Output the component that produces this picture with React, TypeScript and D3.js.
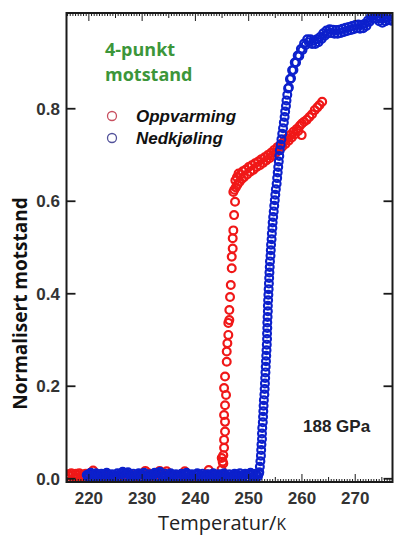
import { useEffect, useRef } from 'react';
import * as d3 from 'd3';

// Oppvarming (rød) – [temperatur K, normalisert motstand]
const heatBase = [
  [216.1, 0.010], [216.4, 0.006], [216.7, 0.012], [217.0, 0.008], [217.3, 0.004], [217.6, 0.011],
  [217.9, 0.007], [218.2, 0.012], [218.5, 0.005], [218.8, 0.009], [219.1, 0.006], [219.4, 0.011],
  [219.8, 0.008], [220.3, 0.013], [220.8, 0.018], [221.5, 0.010], [222.3, 0.006], [223.0, 0.004],
  [223.8, 0.007], [224.6, 0.003], [225.4, 0.001], [225.9, -0.001], [226.6, 0.004], [227.4, 0.006],
  [228.2, 0.008], [229.0, 0.005], [229.8, 0.009], [230.6, 0.017], [231.2, 0.012], [231.9, 0.006],
  [232.6, 0.008], [233.3, 0.017], [234.0, 0.012], [234.6, 0.016], [235.3, 0.007], [236.0, 0.004],
  [236.7, 0.006], [237.4, 0.010], [238.0, 0.016], [238.6, 0.000], [239.3, -0.001], [240.0, 0.001],
  [240.7, 0.000], [241.4, 0.002], [242.1, 0.010], [242.5, 0.019], [243.2, 0.008], [243.9, 0.005],
  [244.5, 0.009], [244.9, 0.020],
];
const heatJump = [
  [244.94, 0.045], [245.24, 0.033], [245.11, 0.037], [245.24, 0.051], [245.38, 0.067], [245.38, 0.084],
  [245.56, 0.102], [245.56, 0.123], [245.38, 0.138], [245.56, 0.159], [245.75, 0.181], [245.38, 0.196],
  [245.56, 0.221], [245.88, 0.253], [245.88, 0.275], [246.0, 0.293], [246.18, 0.311], [246.18, 0.337],
  [246.37, 0.343], [246.37, 0.365], [246.5, 0.393], [246.64, 0.419], [246.82, 0.455], [246.82, 0.480],
  [247.0, 0.498], [247.0, 0.520], [247.12, 0.537], [247.26, 0.570], [247.44, 0.599], [247.12, 0.620],
];
const heatUpper = [
  [247.3, 0.625], [247.5, 0.645], [247.6, 0.630], [247.8, 0.652], [247.9, 0.636], [248.1, 0.660],
  [248.3, 0.642], [248.5, 0.658], [248.7, 0.648], [248.9, 0.665], [249.1, 0.652], [249.4, 0.668],
  [249.7, 0.658], [250.0, 0.674], [250.3, 0.664], [250.6, 0.678], [250.9, 0.668], [251.2, 0.682],
  [251.5, 0.674], [251.8, 0.686], [252.1, 0.678], [252.4, 0.691], [252.7, 0.683], [253.0, 0.695],
  [253.3, 0.688], [253.6, 0.700], [253.9, 0.693], [254.2, 0.705], [254.5, 0.699], [254.8, 0.711],
  [255.1, 0.705], [255.4, 0.717], [255.7, 0.711], [256.0, 0.723], [256.3, 0.718], [256.6, 0.729],
  [256.9, 0.724], [257.2, 0.736], [257.5, 0.731], [257.8, 0.743], [258.1, 0.738], [258.4, 0.750],
  [258.7, 0.745], [259.0, 0.756], [259.3, 0.752], [259.6, 0.763], [259.95, 0.743], [260.0, 0.768],
  [260.4, 0.772], [260.9, 0.776], [261.4, 0.782], [261.9, 0.788], [262.4, 0.797], [262.9, 0.803],
  [263.3, 0.808], [263.8, 0.815],
];

// Nedkjøling (blå)
const coolBase = [
  [219.6, 0.008], [220.0, 0.010], [220.5, 0.011], [221.0, 0.009], [221.5, 0.007], [222.0, 0.006],
  [222.5, 0.008], [223.0, 0.010], [223.5, 0.009], [224.0, 0.007], [224.5, 0.005], [225.0, 0.006],
  [225.5, 0.008], [226.0, 0.011], [226.5, 0.013], [227.0, 0.012], [227.5, 0.009], [228.0, 0.007],
  [228.5, 0.006], [229.0, 0.008], [229.5, 0.010], [230.0, 0.009], [230.5, 0.007], [231.0, 0.005],
  [231.5, 0.006], [232.0, 0.008], [232.5, 0.011], [233.0, 0.012], [233.5, 0.010], [234.0, 0.007],
  [234.5, 0.006], [235.0, 0.008], [235.5, 0.009], [236.0, 0.007], [236.5, 0.005], [237.0, 0.006],
  [237.5, 0.008], [238.0, 0.010], [238.5, 0.009], [239.0, 0.007], [239.5, 0.006], [240.0, 0.008],
  [240.5, 0.010], [241.0, 0.008], [241.5, 0.006], [242.0, 0.005], [242.5, 0.007], [243.0, 0.009],
  [243.5, 0.008], [244.0, 0.006], [244.5, 0.007], [245.0, 0.009], [245.5, 0.008], [246.0, 0.006],
  [246.5, 0.005], [247.0, 0.007], [247.5, 0.009], [248.0, 0.008], [248.5, 0.006], [249.0, 0.007],
  [249.5, 0.009], [250.0, 0.010], [250.5, 0.008], [251.0, 0.006], [251.5, 0.008], [251.9, 0.011],
];
const coolBase2 = [
  [219.85, 0.004], [220.35, 0.013], [220.85, 0.005], [221.35, 0.012], [221.85, 0.003], [222.35, 0.011],
  [222.85, 0.004], [223.35, 0.013], [223.85, 0.003], [224.35, 0.010], [224.85, 0.002], [225.35, 0.012],
  [225.85, 0.004], [226.35, 0.015], [226.85, 0.006], [227.35, 0.014], [227.85, 0.003], [228.35, 0.011],
  [228.85, 0.002], [229.35, 0.012], [229.85, 0.004], [230.35, 0.013], [230.85, 0.003], [231.35, 0.010],
  [231.85, 0.002], [232.35, 0.013], [232.85, 0.005], [233.35, 0.015], [233.85, 0.004], [234.35, 0.011],
  [234.85, 0.003], [235.35, 0.012], [235.85, 0.004], [236.35, 0.010], [236.85, 0.002], [237.35, 0.011],
  [237.85, 0.004], [238.35, 0.013], [238.85, 0.003], [239.35, 0.010], [239.85, 0.002], [240.35, 0.012],
  [240.85, 0.004], [241.35, 0.011], [241.85, 0.002], [242.35, 0.010], [242.85, 0.003], [243.35, 0.012],
  [243.85, 0.003], [244.35, 0.010], [244.85, 0.004], [245.35, 0.012], [245.85, 0.003], [246.35, 0.010],
  [246.85, 0.002], [247.35, 0.011], [247.85, 0.004], [248.35, 0.012], [248.85, 0.003], [249.35, 0.011],
  [249.85, 0.004], [250.35, 0.013], [250.85, 0.003], [251.35, 0.011], [251.75, 0.005],
];
const coolJump = [
  [252.0, 0.014], [252.1, 0.026], [252.2, 0.038], [252.3, 0.050], [252.35, 0.062], [252.4, 0.074],
  [252.5, 0.086], [252.5, 0.098], [252.55, 0.110], [252.65, 0.122], [252.7, 0.134], [252.75, 0.146],
  [252.8, 0.158], [252.85, 0.170], [252.95, 0.182], [253.0, 0.194], [253.05, 0.206], [253.1, 0.218],
  [253.15, 0.230], [253.2, 0.242], [253.25, 0.254], [253.3, 0.266], [253.35, 0.278], [253.4, 0.290],
  [253.45, 0.302], [253.45, 0.314], [253.5, 0.326], [253.5, 0.338], [253.55, 0.350], [253.6, 0.362],
  [253.6, 0.374], [253.65, 0.386], [253.7, 0.398], [253.75, 0.410], [253.8, 0.422], [253.85, 0.434],
  [253.9, 0.446], [253.95, 0.458], [254.0, 0.470], [254.1, 0.482], [254.15, 0.494], [254.2, 0.506],
  [254.3, 0.518], [254.35, 0.530], [254.45, 0.542], [254.5, 0.554], [254.6, 0.566], [254.7, 0.578],
  [254.8, 0.590], [254.9, 0.602], [255.0, 0.614], [255.1, 0.626], [255.25, 0.638], [255.35, 0.650],
  [255.45, 0.662], [255.55, 0.674], [255.65, 0.686], [255.75, 0.698], [255.85, 0.710], [256.0, 0.722],
  [256.15, 0.734], [256.3, 0.746], [256.45, 0.758], [256.6, 0.770], [256.75, 0.782], [256.85, 0.794],
  [257.0, 0.806], [257.1, 0.818], [257.25, 0.830],
];
const coolUpper = [
  [257.4, 0.844], [257.55, 0.846], [257.75, 0.864], [257.95, 0.866], [258.15, 0.883], [258.4, 0.884],
  [258.65, 0.900], [258.9, 0.900], [259.2, 0.915], [259.5, 0.914], [259.8, 0.929], [260.1, 0.927],
  [260.4, 0.941], [260.7, 0.938], [261.0, 0.950], [261.3, 0.944], [261.6, 0.950], [261.9, 0.940],
  [262.2, 0.947], [262.5, 0.940], [262.8, 0.950], [263.1, 0.944], [263.4, 0.955], [263.7, 0.951],
  [264.0, 0.963], [264.3, 0.958], [264.6, 0.969], [264.9, 0.963], [265.2, 0.972], [265.5, 0.964],
  [265.8, 0.971], [266.1, 0.962], [266.4, 0.970], [266.7, 0.962], [267.0, 0.971], [267.3, 0.964],
  [267.6, 0.973], [267.9, 0.966], [268.2, 0.975], [268.5, 0.968], [268.8, 0.977], [269.1, 0.970],
  [269.4, 0.979], [269.7, 0.972], [270.0, 0.981], [270.3, 0.974], [270.6, 0.982], [270.9, 0.973],
  [271.2, 0.981], [271.5, 0.974], [271.8, 0.984], [272.1, 0.979], [272.4, 0.991], [272.7, 0.988],
  [273.0, 1.000], [273.3, 0.995], [273.6, 1.004], [273.9, 0.995], [274.2, 1.000], [274.5, 0.989],
  [274.8, 0.995], [275.1, 0.986], [275.4, 0.995], [275.7, 0.989], [276.0, 0.999], [276.3, 0.992],
  [276.6, 0.999], [276.9, 0.990],
];

const xTicks = [220, 230, 240, 250, 260, 270];
const yTicks = [0, 0.2, 0.4, 0.6, 0.8];

const rod = '#f01818';
const bla = '#0c20cc';
const gronn = '#3c963a';

export default function App() {
  const ref = useRef(null);

  useEffect(() => {
    const width = 395, height = 537;
    const box = { left: 66.5, right: 392.5, top: 13, bottom: 482 };
    const svg = d3.select(ref.current);
    svg.selectAll('*').remove();
    svg.attr('width', width).attr('height', height);

    const x = d3.scaleLinear().domain([215.8, 277.0]).range([box.left, box.right]);
    const y = d3.scaleLinear().domain([-0.007, 1.007]).range([box.bottom, box.top]);

    svg.append('clipPath').attr('id', 'plotclip')
      .append('rect')
      .attr('x', box.left).attr('y', box.top)
      .attr('width', box.right - box.left).attr('height', box.bottom - box.top);

    const plot = svg.append('g').attr('clip-path', 'url(#plotclip)');
    // rød først, blå over
    const serier = [
      { data: [...heatBase, ...heatJump, ...heatUpper], farge: rod },
      { data: [...coolBase, ...coolBase2, ...coolJump, ...coolUpper], farge: bla },
    ];
    serier.forEach(s => {
      plot.append('g').selectAll('circle')
        .data(s.data)
        .join('circle')
        .attr('cx', d => x(d[0]))
        .attr('cy', d => y(d[1]))
        .attr('r', 3.9)
        .attr('fill', 'none')
        .attr('stroke', s.farge)
        .attr('stroke-width', 2.2);
    });

    // Ramme
    svg.append('rect')
      .attr('x', box.left).attr('y', box.top)
      .attr('width', box.right - box.left).attr('height', box.bottom - box.top)
      .attr('fill', 'none').attr('stroke', '#1a1a1a').attr('stroke-width', 2);

    // Små streker langs x (nede og oppe, innover)
    const minor = d3.range(216, 277.01, 0.5);
    const lengde = t => (Math.abs(t % 10) < 0.01 ? 8 : Math.abs(t % 5) < 0.01 ? 5 : 3);
    minor.forEach(t => {
      const px = x(t);
      svg.append('line')
        .attr('x1', px).attr('x2', px)
        .attr('y1', box.bottom).attr('y2', box.bottom - lengde(t))
        .attr('stroke', '#1a1a1a').attr('stroke-width', 1);
      svg.append('line')
        .attr('x1', px).attr('x2', px)
        .attr('y1', box.top).attr('y2', box.top + lengde(t))
        .attr('stroke', '#1a1a1a').attr('stroke-width', 1);
    });

    // y-streker venstre og høyre
    yTicks.forEach(v => {
      const py = y(v);
      svg.append('line')
        .attr('x1', box.left).attr('x2', box.left + 9)
        .attr('y1', py).attr('y2', py)
        .attr('stroke', '#1a1a1a').attr('stroke-width', 1.8);
      svg.append('line')
        .attr('x1', box.right).attr('x2', box.right - 9)
        .attr('y1', py).attr('y2', py)
        .attr('stroke', '#1a1a1a').attr('stroke-width', 1.8);
      svg.append('text')
        .attr('x', 60).attr('y', py + 6)
        .attr('text-anchor', 'end')
        .attr('font-family', 'Liberation Sans, Arial, sans-serif')
        .attr('font-weight', 700).attr('font-size', 17)
        .attr('fill', '#333')
        .text(v.toFixed(1));
    });

    xTicks.forEach(t => {
      svg.append('text')
        .attr('x', x(t)).attr('y', 504)
        .attr('text-anchor', 'middle')
        .attr('font-family', 'Liberation Sans, Arial, sans-serif')
        .attr('font-weight', 700).attr('font-size', 17)
        .attr('fill', '#333')
        .text(t);
    });

    // Aksetitler
    const xt = svg.append('text')
      .attr('x', 158).attr('y', 530)
      .attr('font-family', 'Open Sans, sans-serif')
      .attr('font-size', 20)
      .attr('fill', '#222');
    xt.append('tspan').text('Temperatur/');
    xt.append('tspan').attr('font-size', 15.5).text('K');

    svg.append('text')
      .attr('transform', 'translate(27,303.5) rotate(-90)')
      .attr('text-anchor', 'middle')
      .attr('font-family', 'Open Sans, sans-serif')
      .attr('font-weight', 700).attr('font-size', 19)
      .attr('fill', '#111')
      .text('Normalisert motstand');

    // Grønn merkelapp
    ['4-punkt', 'motstand'].forEach((s, i) => {
      svg.append('text')
        .attr('x', 105).attr('y', 56 + i * 25)
        .attr('font-family', 'Open Sans, sans-serif')
        .attr('font-weight', 700).attr('font-size', 18)
        .attr('fill', gronn)
        .text(s);
    });

    // Forklaring
    const forklaring = [
      { navn: 'Oppvarming', farge: '#c85060' },
      { navn: 'Nedkjøling', farge: '#52529a' },
    ];
    forklaring.forEach((f, i) => {
      svg.append('circle')
        .attr('cx', 112).attr('cy', 116 + i * 22)
        .attr('r', 4.5)
        .attr('fill', 'none').attr('stroke', f.farge).attr('stroke-width', 1.3);
      svg.append('text')
        .attr('x', 136).attr('y', 122 + i * 22)
        .attr('font-family', 'Liberation Sans, Arial, sans-serif')
        .attr('font-weight', 700).attr('font-style', 'italic').attr('font-size', 17)
        .attr('fill', '#111')
        .text(f.navn);
    });

    svg.append('text')
      .attr('x', 303).attr('y', 432)
      .attr('font-family', 'Liberation Sans, Arial, sans-serif')
      .attr('font-weight', 700).attr('font-size', 17)
      .attr('fill', '#222')
      .text('188 GPa');
  }, []);

  return <svg ref={ref} style={{ position: 'absolute', left: 0, top: 0, background: '#fff' }} />;
}
